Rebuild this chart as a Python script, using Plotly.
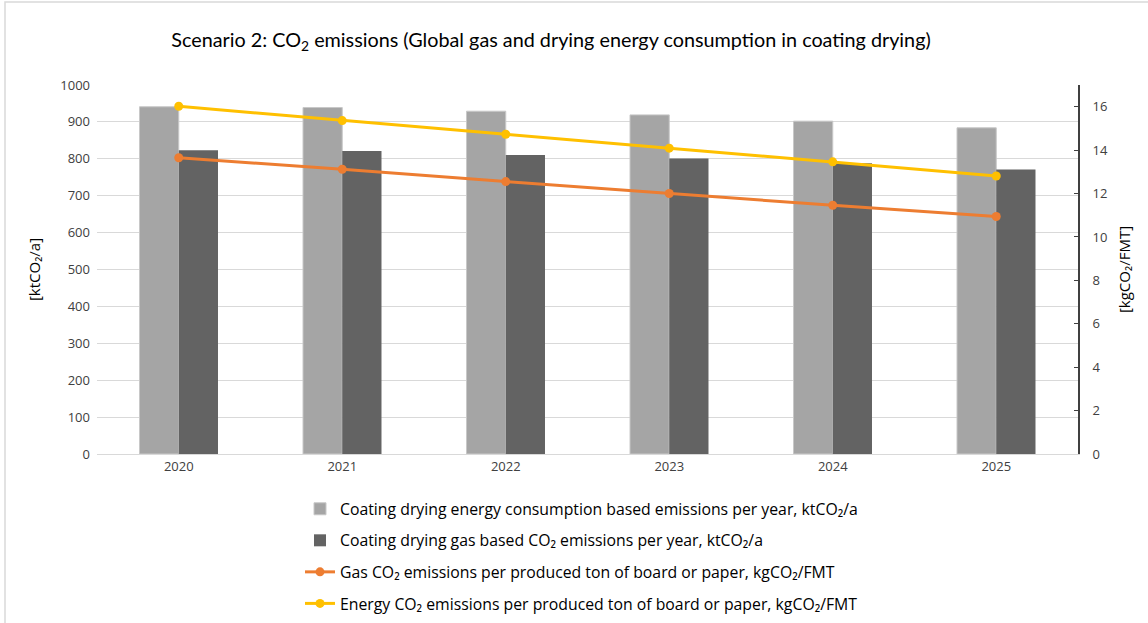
import plotly.graph_objects as go

years = ["2020", "2021", "2022", "2023", "2024", "2025"]
energy_emissions = [941, 939, 929, 919, 902, 884]
gas_emissions = [823, 821, 810, 801, 788, 771]
gas_per_ton = [13.65, 13.12, 12.55, 12.0, 11.46, 10.94]
energy_per_ton = [16.02, 15.36, 14.73, 14.09, 13.46, 12.81]

names = [
    "Coating drying energy consumption based emissions per year, ktCO₂/a",
    "Coating drying gas based CO₂ emissions per year, ktCO₂/a",
    "Gas CO₂ emissions per produced ton of board or paper, kgCO₂/FMT",
    "Energy CO₂ emissions per produced ton of board or paper, kgCO₂/FMT",
]

fig = go.Figure()
fig.add_trace(go.Bar(x=years, y=energy_emissions, name=names[0], marker_color="#A5A5A5",
                     marker_line_color="#C8C8C8", marker_line_width=1, legendgroup="a"))
fig.add_trace(go.Bar(x=years, y=gas_emissions, name=names[1], marker_color="#636363",
                     marker_line_width=0, legendgroup="b"))
fig.add_trace(go.Scatter(x=years, y=gas_per_ton, name=names[2], yaxis="y2", mode="lines+markers",
                         line=dict(color="#ED7D31", width=3), marker=dict(size=9, color="#ED7D31"),
                         legendgroup="c"))
fig.add_trace(go.Scatter(x=years, y=energy_per_ton, name=names[3], yaxis="y2", mode="lines+markers",
                         line=dict(color="#FFC000", width=3), marker=dict(size=9, color="#FFC000"),
                         legendgroup="d"))

fig.update_layout(
    width=1148, height=623,
    margin=dict(l=97, r=70, t=85, b=169, autoexpand=False),
    paper_bgcolor="white", plot_bgcolor="white",
    font=dict(family="Open Sans, Arial", color="#404040"),
    title=dict(text="Scenario 2: CO<sub>2</sub> emissions (Global gas and drying energy consumption in coating drying)",
               x=551 / 1148, xanchor="center", y=1 - 40 / 623, yanchor="middle",
               font=dict(family="Lato, Arial", size=19.8, color="#000000")),
    barmode="group", bargap=0.52, bargroupgap=0,
    xaxis=dict(showgrid=False, showline=True, linecolor="#D9D9D9", linewidth=1,
               ticks="", tickfont=dict(size=13, color="#404040")),
    yaxis=dict(range=[0, 1000], dtick=100, showgrid=True, gridcolor="#D9D9D9", gridwidth=1,
               zeroline=False, showline=False, tickfont=dict(size=13, color="#404040"),
               ticklabelstandoff=6,
               title=dict(text="[ktCO₂/a]", font=dict(size=15, color="#000000"), standoff=16)),
    yaxis2=dict(range=[0, 17], tickvals=[0, 2, 4, 6, 8, 10, 12, 14, 16], overlaying="y", side="right",
                showgrid=False, zeroline=False, showline=True, linecolor="#404040", linewidth=2,
                ticks="inside", ticklen=4, tickcolor="#404040",
                tickfont=dict(size=13, color="#404040"), ticklabelstandoff=10,
                title=dict(text="[kgCO₂/FMT]", font=dict(size=15, color="#000000"), standoff=12)),
    legend=dict(orientation="v", x=(300 - 97) / 981, xanchor="left", y=-0.103, yanchor="top",
                font=dict(family="Open Sans, Arial", size=15.8, color="#000000"), tracegroupgap=8,
                traceorder="grouped", itemwidth=30),
    showlegend=True,
)
fig.add_shape(type="rect", xref="paper", yref="paper",
              x0=-92 / 981, x1=1 + 80 / 981, y0=-175 / 369, y1=1 + 83 / 369,
              line=dict(color="#D9D9D9", width=1.5))

fig.write_html("out.html", config={"displayModeBar": False},
               post_script="document.body.style.margin='0';document.body.style.overflow='hidden';")
